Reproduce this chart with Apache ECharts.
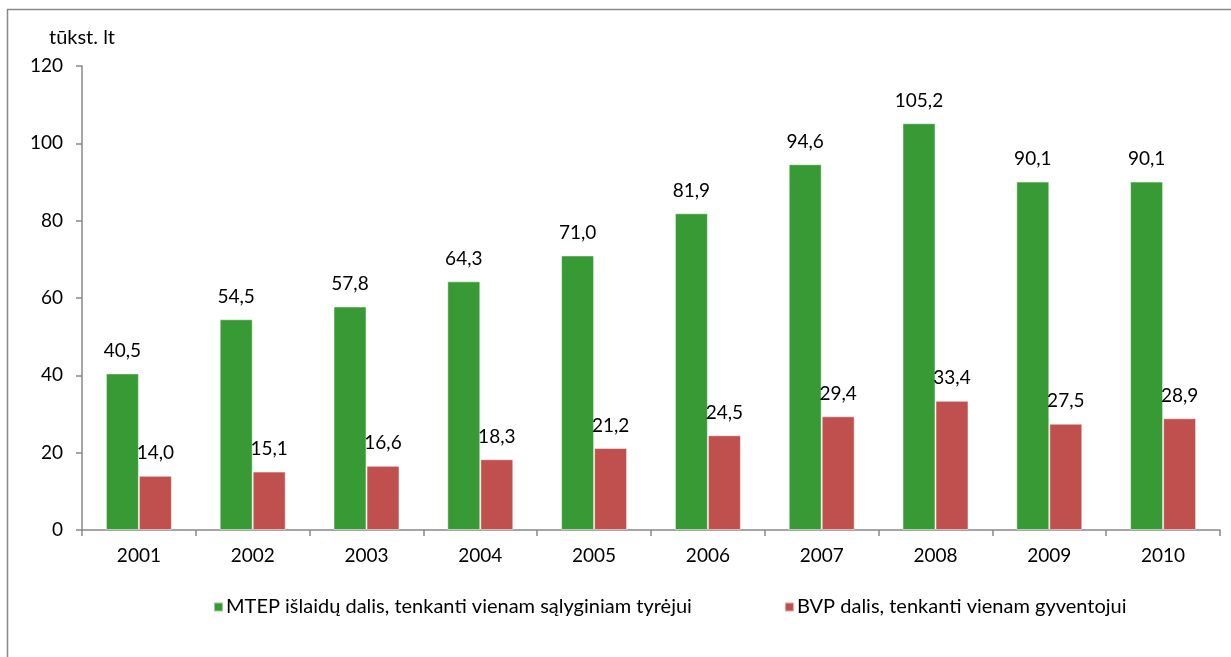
<!DOCTYPE html>
<html>
<head>
<meta charset="utf-8">
<script src="https://cdn.jsdelivr.net/npm/echarts@6/dist/echarts.min.js"></script>
<style>
  html, body { margin: 0; padding: 0; background: #fff; }
  #chart { width: 1231px; height: 657px; }
</style>
</head>
<body>
<div id="chart"></div>
<script>
  // metai
  var years = ['2001', '2002', '2003', '2004', '2005', '2006', '2007', '2008', '2009', '2010'];
  // MTEP išlaidos vienam tyrėjui, tūkst. lt
  var mtep = [40.5, 54.5, 57.8, 64.3, 71.0, 81.9, 94.6, 105.2, 90.1, 90.1];
  // BVP vienam gyventojui, tūkst. lt
  var bvp = [14.0, 15.1, 16.6, 18.3, 21.2, 24.5, 29.4, 33.4, 27.5, 28.9];
  var seriesNames = ['MTEP išlaidų dalis, tenkanti vienam sąlyginiam tyrėjui', 'BVP dalis, tenkanti vienam gyventojui'];

  var font = 'Lato, "Open Sans", sans-serif';
  var axisColor = '#888888';

  function fmt(p) {
    return p.value.toFixed(1).replace('.', ',');
  }

  var chart = echarts.init(document.getElementById('chart'));
  chart.setOption({
    animation: false,
    textStyle: {fontFamily: font, color: '#000'},
    graphic: [{
      type: 'rect',
      shape: {x: 7.5, y: 9.5, width: 1300, height: 700},
      style: {fill: 'none', stroke: axisColor, lineWidth: 1.5},
      silent: true
    }],
    grid: {left: 82, right: 11, top: 66, bottom: 127},
    legend: {
      left: 208,
      top: 592,
      icon: 'rect',
      itemWidth: 9,
      itemHeight: 9,
      itemGap: 92,
      textStyle: {fontFamily: font, fontSize: 20, color: '#000', padding: [0, 0, 0, -2]},
      data: seriesNames
    },
    xAxis: {
      type: 'category',
      data: years,
      axisLine: {lineStyle: {color: axisColor, width: 1.5}},
      axisTick: {show: true, length: 6, lineStyle: {color: axisColor, width: 1.5}},
      axisLabel: {color: '#000', fontSize: 19, margin: 16, fontFamily: font}
    },
    yAxis: {
      type: 'value',
      min: 0,
      max: 120,
      interval: 20,
      name: 'tūkst. lt',
      nameLocation: 'end',
      nameGap: 18,
      nameTextStyle: {color: '#000', fontSize: 20, fontFamily: font},
      axisLine: {show: true, lineStyle: {color: axisColor, width: 1.5}},
      axisTick: {show: true, length: 6, lineStyle: {color: axisColor, width: 1.5}},
      axisLabel: {color: '#000', fontSize: 19, margin: 19, fontFamily: font},
      splitLine: {show: false}
    },
    series: [{
      name: seriesNames[0],
      type: 'bar',
      data: mtep,
      barWidth: 33,
      barGap: '0%',
      itemStyle: {color: '#379A34', borderColor: 'rgba(255,255,255,0.5)', borderWidth: 1},
      label: {show: true, position: 'top', distance: 13, formatter: fmt, fontSize: 19, color: '#000', fontFamily: font}
    }, {
      name: seriesNames[1],
      type: 'bar',
      data: bvp,
      barWidth: 33,
      barGap: '0%',
      itemStyle: {color: '#C0504D', borderColor: 'rgba(255,255,255,0.5)', borderWidth: 1},
      label: {show: true, position: 'top', distance: 13, formatter: fmt, fontSize: 19, color: '#000', fontFamily: font}
    }]
  });
</script>
</body>
</html>
